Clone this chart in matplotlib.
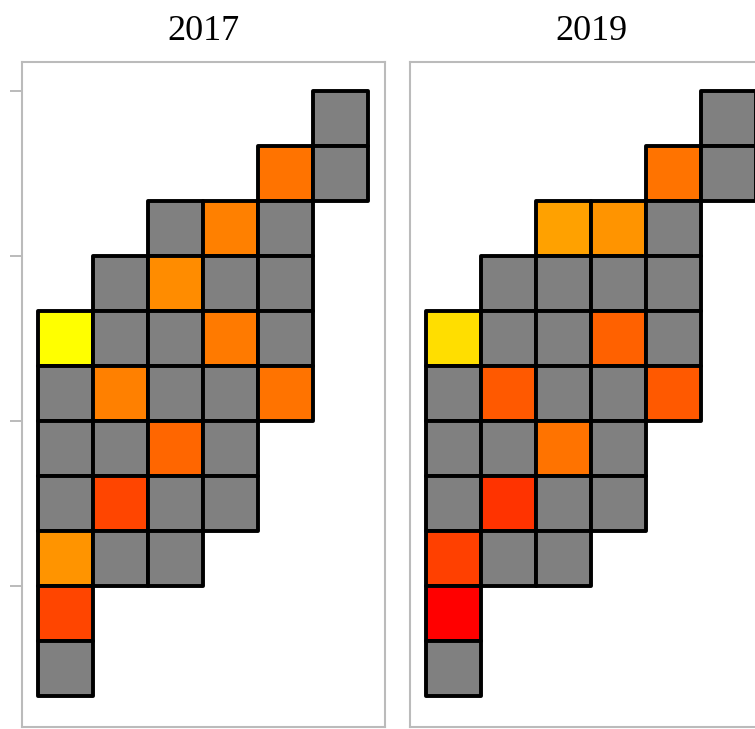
import matplotlib
matplotlib.use("Agg")
import matplotlib.pyplot as plt
from matplotlib.patches import Rectangle
import numpy as np

# tile grid: column and row (row 0 at top)
tile_cols = [5,
             4, 5,
             2, 3, 4,
             1, 2, 3, 4,
             0, 1, 2, 3, 4,
             0, 1, 2, 3, 4,
             0, 1, 2, 3,
             0, 1, 2, 3,
             0, 1, 2,
             0,
             0]
tile_rows = [0,
             1, 1,
             2, 2, 2,
             3, 3, 3, 3,
             4, 4, 4, 4, 4,
             5, 5, 5, 5, 5,
             6, 6, 6, 6,
             7, 7, 7, 7,
             8, 8, 8,
             9,
             10]

nan = np.nan
# values on the autumn scale (0 = red, 1 = yellow); NaN = no data (gray)
values_2017 = [nan,
               0.45, nan,
               nan, 0.50, nan,
               nan, 0.55, nan, nan,
               1.00, nan, nan, 0.48, nan,
               nan, 0.50, nan, nan, 0.45,
               nan, nan, 0.40, nan,
               nan, 0.27, nan, nan,
               0.58, nan, nan,
               0.27,
               nan]
values_2019 = [nan,
               0.45, nan,
               0.63, 0.58, nan,
               nan, nan, nan, nan,
               0.87, nan, nan, 0.38, nan,
               nan, 0.35, nan, nan, 0.35,
               nan, nan, 0.45, nan,
               nan, 0.20, nan, nan,
               0.25, nan, nan,
               0.00,
               nan]

years = ["2017", "2019"]
panels = [values_2017, values_2019]

cmap = plt.get_cmap("autumn")
missing = "#808080"

fig = plt.figure(figsize=(7.55, 7.29), dpi=100)
W, H = 755, 729
lefts = [22, 410]

for i, (year, vals) in enumerate(zip(years, panels)):
    ax = fig.add_axes([lefts[i] / W, 2 / H, 363 / W, 665 / H])
    for c, r, v in zip(tile_cols, tile_rows, vals):
        face = missing if np.isnan(v) else cmap(v)
        ax.add_patch(Rectangle((c, -r - 1), 1, 1, facecolor=face,
                               edgecolor="black", linewidth=2.8,
                               joinstyle="round"))
    ax.set_xlim(-0.29, 6.31)
    ax.set_ylim(-11 - 0.564, 0.527)
    ax.set_xticks([])
    if i == 0:
        ax.set_yticks([0, -3, -6, -9])
        ax.set_yticklabels([])
        ax.tick_params(axis="y", length=9, width=1.4, color="#BBBBBB")
    else:
        ax.set_yticks([])
    for s in ax.spines.values():
        s.set_color("#BBBBBB")
        s.set_linewidth(1.5)
    ax.set_title(year, fontsize=26, family="Liberation Serif", pad=16)

fig.savefig("out.png", dpi=100)
